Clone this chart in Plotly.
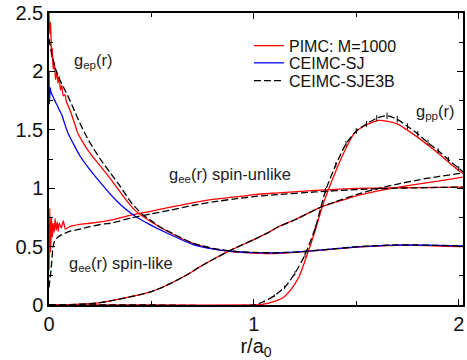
import plotly.graph_objects as go

# ---------------- data ----------------
# electron-proton g(r)
r_ep_pimc = [0.0, 0.004, 0.008, 0.012, 0.016, 0.02, 0.026, 0.032, 0.038, 0.044, 0.05, 0.056, 0.062,
             0.07, 0.078, 0.085, 0.1, 0.12, 0.141, 0.17, 0.2, 0.255, 0.3, 0.376, 0.42, 0.5, 0.6, 0.7,
             0.8, 0.9, 1.0, 1.1, 1.2, 1.3, 1.4, 1.5, 1.6, 1.7, 1.8, 1.9, 2.0, 2.02]
g_ep_pimc = [2.5, 2.32, 2.42, 2.12, 2.2, 2.02, 2.08, 1.93, 2.0, 1.9, 1.96, 1.84, 1.88,
             1.79, 1.8, 1.74, 1.68, 1.58, 1.47, 1.38, 1.30, 1.18, 1.08, 0.90, 0.81, 0.71, 0.61, 0.53,
             0.48, 0.455, 0.445, 0.44, 0.45, 0.465, 0.48, 0.495, 0.505, 0.51, 0.51, 0.505, 0.50, 0.50]

r_ep_sj = [0.0, 0.002, 0.006, 0.01, 0.018, 0.028, 0.04, 0.05, 0.062, 0.075, 0.093, 0.11, 0.125, 0.15,
           0.19, 0.25, 0.327, 0.375, 0.425, 0.49, 0.58, 0.7, 0.8, 0.9, 1.0, 1.1, 1.2, 1.3, 1.4,
           1.5, 1.6, 1.7, 1.8, 1.9, 2.0, 2.02]
g_ep_sj = [2.0, 1.72, 1.86, 1.82, 1.79, 1.75, 1.71, 1.67, 1.63, 1.56, 1.47, 1.41, 1.36, 1.28,
           1.18, 1.05, 0.897, 0.82, 0.755, 0.69, 0.612, 0.52, 0.48, 0.458, 0.448, 0.446, 0.452, 0.466,
           0.482, 0.497, 0.507, 0.513, 0.513, 0.51, 0.506, 0.505]

r_ep_e3b = [0.0, 0.01, 0.02, 0.03, 0.05, 0.075, 0.1, 0.125, 0.15, 0.175, 0.2, 0.25, 0.3, 0.35, 0.4,
            0.45, 0.5, 0.55, 0.6, 0.7, 0.8, 0.9, 1.0, 1.1, 1.2, 1.3, 1.4, 1.5, 1.6, 1.7, 1.8, 1.9,
            2.0, 2.02]
g_ep_e3b = [2.28, 2.18, 2.1, 2.03, 1.94, 1.85, 1.76, 1.66, 1.56, 1.47, 1.39, 1.25, 1.13, 1.01, 0.88,
            0.785, 0.72, 0.66, 0.615, 0.53, 0.485, 0.46, 0.45, 0.447, 0.453, 0.467, 0.483, 0.498,
            0.508, 0.514, 0.514, 0.51, 0.506, 0.505]

# electron-electron g(r), antiparallel spins
r_ud_pimc = [0.0, 0.004, 0.008, 0.012, 0.016, 0.02, 0.025, 0.03, 0.035, 0.04, 0.045, 0.05, 0.06,
             0.07, 0.08, 0.1, 0.15, 0.2, 0.3, 0.4, 0.49, 0.6, 0.7, 0.8, 0.91, 1.0, 1.12, 1.3, 1.5,
             1.66, 1.8, 2.02]
g_ud_pimc = [0.3, 0.83, 0.45, 0.75, 0.58, 0.7, 0.62, 0.74, 0.64, 0.71, 0.63, 0.7, 0.66,
             0.72, 0.65, 0.67, 0.69, 0.70, 0.727, 0.77, 0.80, 0.84, 0.875, 0.905, 0.925, 0.945, 0.96,
             0.982, 0.998, 1.003, 1.005, 1.01]

r_ud_e3b = [0.0, 0.01, 0.02, 0.03, 0.06, 0.1, 0.14, 0.2, 0.27, 0.3, 0.4, 0.5, 0.6, 0.7, 0.8, 0.9,
            1.0, 1.1, 1.3, 1.5, 1.7, 2.02]
g_ud_e3b = [0.15, 0.3, 0.5, 0.56, 0.6, 0.63, 0.645, 0.67, 0.695, 0.70, 0.745, 0.78, 0.815, 0.852,
            0.882, 0.907, 0.928, 0.943, 0.968, 0.988, 1.0, 1.01]

# electron-electron g(r), parallel spins
r_uu = [0.0, 0.1, 0.2, 0.25, 0.3, 0.41, 0.5, 0.57, 0.67, 0.73, 0.8, 0.9, 1.0, 1.07, 1.12, 1.2,
        1.33, 1.4, 1.5, 1.6, 1.66, 1.8, 1.9, 2.02]
g_uu_pimc = [0.0, 0.003, 0.012, 0.02, 0.035, 0.075, 0.115, 0.165, 0.255, 0.32, 0.39, 0.48, 0.56, 0.62,
             0.67, 0.73, 0.84, 0.88, 0.935, 0.975, 0.995, 1.035, 1.06, 1.095]
g_uu_e3b = [0.0, 0.003, 0.012, 0.02, 0.035, 0.075, 0.115, 0.165, 0.255, 0.32, 0.39, 0.48, 0.56, 0.62,
            0.67, 0.73, 0.84, 0.885, 0.945, 0.995, 1.02, 1.07, 1.10, 1.13]

# proton-proton g(r)
r_pp_pimc = [0.0, 0.5, 1.0, 1.03, 1.08, 1.14, 1.18, 1.22, 1.26, 1.3, 1.33, 1.36, 1.38, 1.43, 1.49,
             1.54, 1.61, 1.66, 1.7, 1.8, 1.9, 2.0, 2.025]
g_pp_pimc = [0.0, 0.0, 0.0, 0.002, 0.02, 0.06, 0.13, 0.24, 0.43, 0.64, 0.82, 0.97, 1.06, 1.27, 1.47,
             1.535, 1.58, 1.57, 1.55, 1.435, 1.30, 1.15, 1.125]

r_pp_e3b = [0.0, 0.5, 1.0, 1.05, 1.1, 1.15, 1.2, 1.25, 1.3, 1.35, 1.4, 1.45, 1.5, 1.55, 1.6, 1.65,
            1.7, 1.75, 1.8, 1.85, 1.9, 1.95, 2.0, 2.025]
g_pp_e3b = [0.0, 0.0, 0.0, 0.03, 0.08, 0.15, 0.27, 0.43, 0.66, 0.98, 1.2, 1.38, 1.49, 1.55, 1.6, 1.62,
            1.59, 1.53, 1.465, 1.39, 1.32, 1.245, 1.17, 1.135]
g_pp_e3b_err = [0, 0, 0, 0.01, 0.012, 0.015, 0.018, 0.02, 0.02, 0.022, 0.022, 0.025, 0.025, 0.025,
                0.025, 0.028, 0.028, 0.025, 0.025, 0.025, 0.022, 0.022, 0.02, 0.02]

series_names = ["PIMC: M=1000", "CEIMC-SJ", "CEIMC-SJE3B"]
labels = ["g<sub>ep</sub>(r)", "g<sub>pp</sub>(r)", "g<sub>ee</sub>(r) spin-unlike", "g<sub>ee</sub>(r) spin-like"]

RED = "#ff0000"
BLUE = "#0000ff"
BLACK = "#000000"
FONT = "Liberation Sans, Arial, sans-serif"

fig = go.Figure()

def line(x, y, color, name, legend=None, dash="solid", err=None, width=1.3):
    tr = go.Scatter(
        x=x, y=y, mode="lines", name=name,
        line=dict(color=color, width=width, dash=dash, shape="spline", smoothing=0.6),
        showlegend=legend is not None,
    )
    if legend is not None:
        tr.legend = legend
    if err is not None:
        tr.error_y = dict(type="data", array=err, visible=True, color=color, thickness=1, width=0)
    fig.add_trace(tr)

# PIMC (red)
line(r_ep_pimc, g_ep_pimc, RED, series_names[0], legend="legend")
line(r_ud_pimc, g_ud_pimc, RED, series_names[0])
line(r_uu, g_uu_pimc, RED, series_names[0])
line(r_pp_pimc, g_pp_pimc, RED, series_names[0])
# CEIMC-SJ (blue)
line(r_ep_sj, g_ep_sj, BLUE, series_names[1], legend="legend2")
# CEIMC-SJE3B (black dashed)
DASH = "7px,3px"
line(r_ep_e3b, g_ep_e3b, BLACK, series_names[2], legend="legend3", dash=DASH)
line(r_ud_e3b, g_ud_e3b, BLACK, series_names[2], dash=DASH)
line(r_uu, g_uu_e3b, BLACK, series_names[2], dash=DASH)
line(r_pp_e3b, g_pp_e3b, BLACK, series_names[2], dash=DASH, err=g_pp_e3b_err)

label_pos = [(0.11, 2.09), (1.78, 1.65), (0.575, 1.11), (0.09, 0.35)]
for txt, (x, y) in zip(labels, label_pos):
    fig.add_annotation(x=x, y=y, text=txt, showarrow=False, xanchor="left", yanchor="middle",
                       font=dict(family=FONT, size=16.5, color="#222"))

leg_common = dict(font=dict(family=FONT, size=16, color="#111"), bgcolor="rgba(0,0,0,0)",
                  xanchor="left", yanchor="middle", x=0.483, itemwidth=30, borderwidth=0)
fig.update_layout(
    legend=dict(y=0.888, **leg_common),
    legend2=dict(y=0.829, **leg_common),
    legend3=dict(y=0.768, **leg_common),
)

axis_common = dict(showline=True, linecolor="black", linewidth=1.5, mirror="allticks",
                   ticks="inside", ticklen=6, tickwidth=1.2, tickcolor="black",
                   showgrid=False, zeroline=False,
                   tickfont=dict(family=FONT, size=20, color="#111"))
fig.update_xaxes(range=[0, 2.021], tickvals=[0, 1, 2], ticktext=["0", "1", "2"],
                 minor=dict(tickvals=[0.5, 1.5], ticks="inside", ticklen=4, tickcolor="black"),
                 title=dict(text="r/a<sub>0</sub>", font=dict(family=FONT, size=20, color="#111"),
                            standoff=5),
                 **axis_common)
fig.update_yaxes(range=[0, 2.5], tickvals=[0, 0.5, 1, 1.5, 2, 2.5],
                 ticktext=["0", "0.5", "1", "1.5", "2", "2.5"],
                 minor=dict(dtick=0.25, ticks="inside", ticklen=4, tickcolor="black"),
                 **axis_common)

fig.update_layout(
    width=467, height=360,
    margin=dict(l=49, r=2, t=11, b=55),
    plot_bgcolor="white", paper_bgcolor="white",
)

fig.write_html("out.html")
